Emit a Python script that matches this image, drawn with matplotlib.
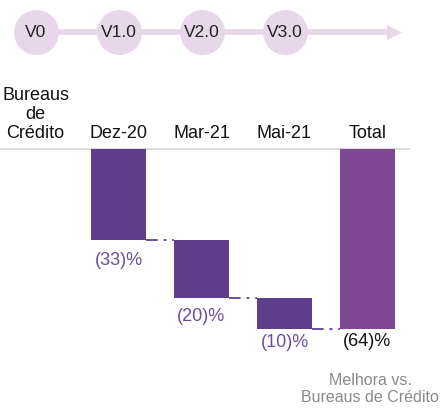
import matplotlib.pyplot as plt
from matplotlib.patches import Polygon

plt.rcParams['font.family'] = ['Liberation Sans', 'DejaVu Sans']

# data
versions = ['V0', 'V1.0', 'V2.0', 'V3.0']
categories = ['Bureaus\nde\nCrédito', 'Dez-20', 'Mar-21', 'Mai-21', 'Total']
steps = [32.7, 20.4, 10.9]          # reduction per release (bar heights)
step_labels = ['(33)%', '(20)%', '(10)%']
total_label = '(64)%'
note = 'Melhora vs.\nBureaus de Crédito'

bar_color = '#5f3e8e'
total_color = '#7f4794'
label_color = '#6b4e9e'
light = '#e8d6ea'

W, H = 443, 408
fig = plt.figure(figsize=(W / 100, H / 100), dpi=100)
ax = fig.add_axes([0, 0, 1, 1])

# pixel -> data helpers (x: category units, y: percent, downward negative)
x0, dx = 35.5, 83.0
y0, dy = 148.5, 2.8125
def px(p):
    return (p - x0) / dx
def py(p):
    return (y0 - p) / dy

ax.set_xlim(px(0), px(W))
ax.set_ylim(py(H), py(0))
ax.axis('off')

# timeline with version circles
cy = py(32.5)
ax.plot([0, px(388)], [cy, cy], color=light, lw=4, solid_capstyle='butt', zorder=1)
ax.add_patch(Polygon([[px(387), py(25)], [px(387), py(40)], [px(402), cy]],
                     closed=True, color=light, lw=0, zorder=1))
for i, v in enumerate(versions):
    ax.scatter(i, cy, s=(22.5 * 0.72 * 2) ** 2, color=light, zorder=2, linewidths=0)
    ax.text(i, cy, v, ha='center', va='center', fontsize=12.5, color='#222222', zorder=3)

# category header
for i, c in enumerate(categories):
    ax.text(i, py(138), c, ha='center', va='baseline', fontsize=13,
            color='#111111', linespacing=1.15)

ax.plot([px(0), px(409)], [0, 0], color='#d9d9d9', lw=1.3, zorder=1)

# waterfall
w = 0.663
top = 0.0
bottoms = []
for i, s in enumerate(steps):
    ax.bar(i + 1, -s, bottom=top, width=w, color=bar_color, zorder=2)
    top -= s
    bottoms.append(top)
total = sum(steps)
ax.bar(len(steps) + 1, -total, bottom=0, width=w, color=total_color, zorder=2)

# connectors
for i, b in enumerate(bottoms):
    ax.plot([i + 1 + w / 2, i + 2 - w / 2], [b, b], color=label_color,
            lw=1.4, linestyle=(0, (6, 3, 1.5, 3)), zorder=1)

# labels
offsets = [20, 19, 14]
for i, (b, lab, off) in enumerate(zip(bottoms, step_labels, offsets)):
    ax.text(i + 1, b - off / dy, lab, ha='center', va='center', fontsize=13,
            color=label_color)
ax.text(len(steps) + 1, -total - 13 / dy, total_label, ha='center', va='center',
        fontsize=13, color='#111111')

ax.text(px(370), py(402), note, ha='center', va='baseline', fontsize=11.5,
        color='#8a8a8a', multialignment='center', linespacing=1.2)

fig.savefig('out.png', dpi=100)
